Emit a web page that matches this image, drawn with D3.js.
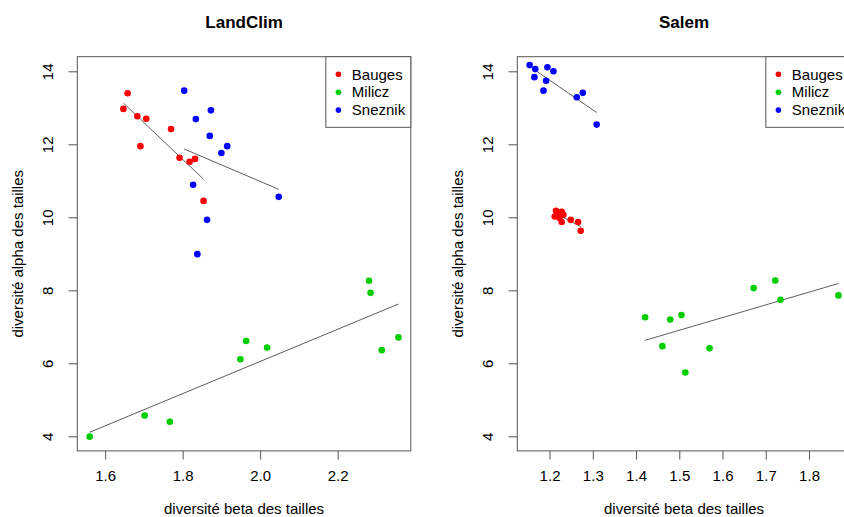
<!DOCTYPE html>
<html>
<head>
<meta charset="utf-8">
<script src="https://cdn.jsdelivr.net/npm/d3@7"></script>
<style>
  body { margin: 0; background: #fff; }
  svg { display: block; font-family: "Liberation Sans", Arial, sans-serif; }
</style>
</head>
<body>
<div id="chart"></div>
<script>
const width = 844;
const height = 517;

const groups = ['Bauges', 'Milicz', 'Sneznik'];
const groupColors = ['#ff0000', '#00cd00', '#0000ff'];

// LandClim : beta (x) / alpha (y)
const landclimBaugesBeta = [1.658, 1.647, 1.683, 1.706, 1.770, 1.691, 1.792, 1.818, 1.832, 1.854];
const landclimBaugesAlpha = [13.40, 12.97, 12.77, 12.70, 12.42, 11.95, 11.63, 11.52, 11.60, 10.45];
const landclimMiliczBeta = [1.560, 1.702, 1.767, 1.949, 1.964, 2.018, 2.281, 2.285, 2.314, 2.357];
const landclimMiliczAlpha = [3.99, 4.57, 4.40, 6.11, 6.61, 6.43, 8.26, 7.93, 6.36, 6.71];
const landclimSneznikBeta = [1.804, 1.873, 1.834, 1.870, 1.915, 1.900, 1.827, 2.048, 1.863, 1.838];
const landclimSneznikAlpha = [13.47, 12.93, 12.69, 12.23, 11.95, 11.76, 10.89, 10.56, 9.93, 8.99];

// Salem
const salemBaugesBeta = [1.215, 1.228, 1.232, 1.212, 1.223, 1.228, 1.249, 1.266, 1.272, 1.218];
const salemBaugesAlpha = [10.18, 10.15, 10.07, 10.02, 9.98, 9.87, 9.93, 9.87, 9.63, 10.11];
const salemMiliczBeta = [1.421, 1.479, 1.505, 1.461, 1.570, 1.514, 1.672, 1.722, 1.734, 1.868];
const salemMiliczAlpha = [7.26, 7.20, 7.32, 6.47, 6.41, 5.75, 8.06, 8.27, 7.74, 7.86];
const salemSneznikBeta = [1.154, 1.167, 1.195, 1.209, 1.165, 1.192, 1.186, 1.263, 1.277, 1.309];
const salemSneznikAlpha = [14.17, 14.06, 14.11, 14.00, 13.84, 13.74, 13.47, 13.29, 13.41, 12.54];

const landclimXTicks = [1.6, 1.8, 2.0, 2.2];
const salemXTicks = [1.2, 1.3, 1.4, 1.5, 1.6, 1.7, 1.8];
const yTicks = [4, 6, 8, 10, 12, 14];
const yLimits = [4, 14];

const panels = [
  {
    title: 'LandClim', offset: 0, xTicks: landclimXTicks,
    series: [
      [landclimBaugesBeta, landclimBaugesAlpha],
      [landclimMiliczBeta, landclimMiliczAlpha],
      [landclimSneznikBeta, landclimSneznikAlpha]
    ]
  },
  {
    title: 'Salem', offset: 440, xTicks: salemXTicks,
    series: [
      [salemBaugesBeta, salemBaugesAlpha],
      [salemMiliczBeta, salemMiliczAlpha],
      [salemSneznikBeta, salemSneznikAlpha]
    ]
  }
];

const plotLeft = 77.3;
const plotWidth = 333.5;
const plotTop = 56.7;
const plotBottom = 450.9;
const tickLen = 8.7;

// R style limits: data range widened by 4% on each side
const pad = ext => {
  const w = ext[1] - ext[0];
  return [ext[0] - 0.04 * w, ext[1] + 0.04 * w];
};

const fit = (xs, ys) => {
  const mx = d3.mean(xs), my = d3.mean(ys);
  const sxy = d3.sum(xs, (x, i) => (x - mx) * (ys[i] - my));
  const sxx = d3.sum(xs, x => (x - mx) * (x - mx));
  const b = sxy / sxx;
  return x => my + b * (x - mx);
};

const svg = d3.select('#chart')
  .append('svg')
  .attr('width', width)
  .attr('height', height);

svg.append('rect')
  .attr('width', width)
  .attr('height', height)
  .attr('fill', '#fff');

const y = d3.scaleLinear()
  .domain(pad(yLimits))
  .range([plotBottom, plotTop]);

panels.forEach(p => {
  const left = p.offset + plotLeft;
  const right = left + plotWidth;
  const allX = p.series.flatMap(s => s[0]);
  const x = d3.scaleLinear()
    .domain(pad(d3.extent(allX)))
    .range([left, right]);

  const g = svg.append('g');

  // x axis
  const xAxis = g.append('g')
    .attr('transform', `translate(0, ${plotBottom})`)
    .call(d3.axisBottom(x)
      .tickValues(p.xTicks)
      .tickFormat(d3.format('.1f'))
      .tickSize(tickLen)
      .tickSizeOuter(0)
      .tickPadding(11));
  xAxis.select('.domain').remove();
  xAxis.selectAll('line').attr('stroke', '#555');
  xAxis.selectAll('text')
    .attr('fill', '#000')
    .style('font-size', '15px');

  // y axis, labels parallel to the axis
  const yAxis = g.append('g')
    .attr('transform', `translate(${left}, 0)`)
    .call(d3.axisLeft(y)
      .tickValues(yTicks)
      .tickSize(tickLen)
      .tickSizeOuter(0));
  yAxis.select('.domain').remove();
  yAxis.selectAll('line').attr('stroke', '#555');
  yAxis.selectAll('text')
    .attr('x', 0)
    .attr('dy', null)
    .attr('text-anchor', 'middle')
    .attr('fill', '#000')
    .style('font-size', '15px')
    .attr('transform', `translate(${p.offset + 52.5 - left}, 0) rotate(-90)`);

  // plot box
  g.append('rect')
    .attr('x', left)
    .attr('y', plotTop)
    .attr('width', plotWidth)
    .attr('height', plotBottom - plotTop)
    .attr('fill', 'none')
    .attr('stroke', '#555')
    .attr('stroke-width', 1);

  // regression lines
  p.series.forEach(s => {
    const f = fit(s[0], s[1]);
    const ext = d3.extent(s[0]);
    g.append('path')
      .attr('d', d3.line()(ext.map(v => [x(v), y(f(v))])))
      .attr('stroke', '#333')
      .attr('stroke-width', 0.8)
      .attr('fill', 'none');
  });

  // points
  p.series.forEach((s, i) => {
    g.selectAll(null)
      .data(s[0].map((v, j) => [v, s[1][j]]))
      .enter()
      .append('circle')
      .attr('cx', d => x(d[0]))
      .attr('cy', d => y(d[1]))
      .attr('r', 3.3)
      .style('fill', groupColors[i]);
  });

  // titles
  g.append('text')
    .attr('x', (left + right) / 2)
    .attr('y', 28)
    .attr('text-anchor', 'middle')
    .style('font-size', '17px')
    .style('font-weight', 'bold')
    .text(p.title);

  g.append('text')
    .attr('x', (left + right) / 2)
    .attr('y', 514)
    .attr('text-anchor', 'middle')
    .style('font-size', '15px')
    .text('diversité beta des tailles');

  g.append('text')
    .attr('transform', `translate(${p.offset + 23}, ${(plotTop + plotBottom) / 2}) rotate(-90)`)
    .attr('text-anchor', 'middle')
    .style('font-size', '15px')
    .text('diversité alpha des tailles');

  // legend
  const legW = 85;
  const leg = g.append('g')
    .attr('transform', `translate(${right - legW}, ${plotTop})`);
  leg.append('rect')
    .attr('width', legW)
    .attr('height', 70.6)
    .attr('fill', '#fff')
    .attr('stroke', '#555');
  groups.forEach((name, i) => {
    leg.append('circle')
      .attr('cx', 12.6)
      .attr('cy', 17.6 + i * 17.9)
      .attr('r', 2.8)
      .style('fill', groupColors[i]);
    leg.append('text')
      .attr('x', 26)
      .attr('y', 17.6 + i * 17.9 + 5.3)
      .style('font-size', '15px')
      .text(name);
  });
});
</script>
</body>
</html>
